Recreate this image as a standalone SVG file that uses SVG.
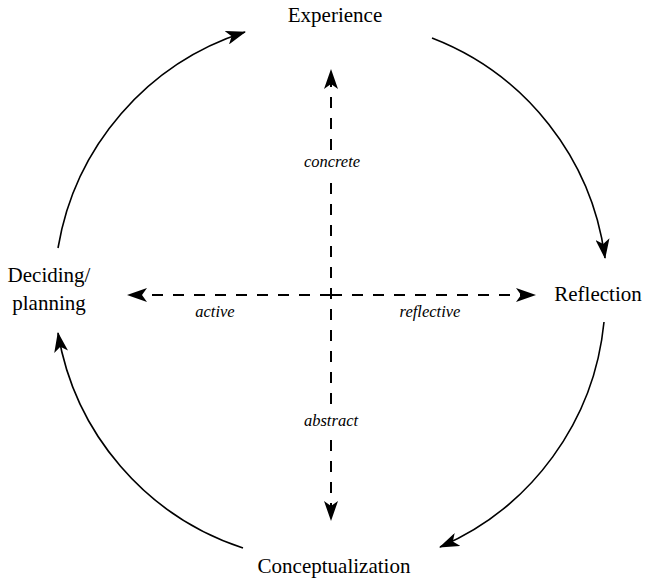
<svg xmlns="http://www.w3.org/2000/svg" width="645" height="580" viewBox="0 0 645 580">
  <style>
    text { font-family: "Liberation Serif", "DejaVu Serif", serif; fill: #000; text-anchor: middle; }
    .label { font-size: 21px; }
    .axis-label { font-size: 16.5px; font-style: italic; }
    .cycle { fill: none; stroke: #000; stroke-width: 1.6; }
    .axis { fill: none; stroke: #000; stroke-width: 2; stroke-dasharray: 11 10; }
  </style>
  <defs>
    <marker id="head" viewBox="0 0 20 14" refX="19" refY="7" markerWidth="20" markerHeight="14" markerUnits="userSpaceOnUse" orient="auto">
      <path d="M0,0 L20,7 L0,14 L5,7 Z" fill="#000"/>
    </marker>
  </defs>

  <rect width="645" height="580" fill="#fff"/>

  <!-- connectors: cycle arcs and dashed axes -->
  <g id="connectors">
    <path class="cycle" d="M58,248 A274,274 0 0 1 245,32" marker-end="url(#head)"/>
    <path class="cycle" d="M432,38 A274,274 0 0 1 605,258" marker-end="url(#head)"/>
    <path class="cycle" d="M604,322 A274,274 0 0 1 440,547" marker-end="url(#head)"/>
    <path class="cycle" d="M243,548 A274,274 0 0 1 58,333" marker-end="url(#head)"/>

    <path class="axis" d="M331,150 L331,70" marker-end="url(#head)"/>
    <path class="axis" d="M331,183 L331,404"/>
    <path class="axis" d="M331,440 L331,520" marker-end="url(#head)"/>
    <path class="axis" d="M331,295 L128,295" marker-end="url(#head)"/>
    <path class="axis" d="M331,295 L535,295" marker-end="url(#head)"/>
  </g>

  <g id="experience"><text class="label" x="335" y="22">Experience</text></g>
  <g id="reflection"><text class="label" x="598" y="301">Reflection</text></g>
  <g id="conceptualization"><text class="label" x="334" y="573">Conceptualization</text></g>
  <g id="deciding-planning">
    <text class="label" x="49" y="282">Deciding/</text>
    <text class="label" x="49" y="310">planning</text>
  </g>

  <g id="axis-labels">
    <text class="axis-label" x="332" y="167">concrete</text>
    <text class="axis-label" x="331" y="426">abstract</text>
    <text class="axis-label" x="215" y="317">active</text>
    <text class="axis-label" x="430" y="317">reflective</text>
  </g>
</svg>
